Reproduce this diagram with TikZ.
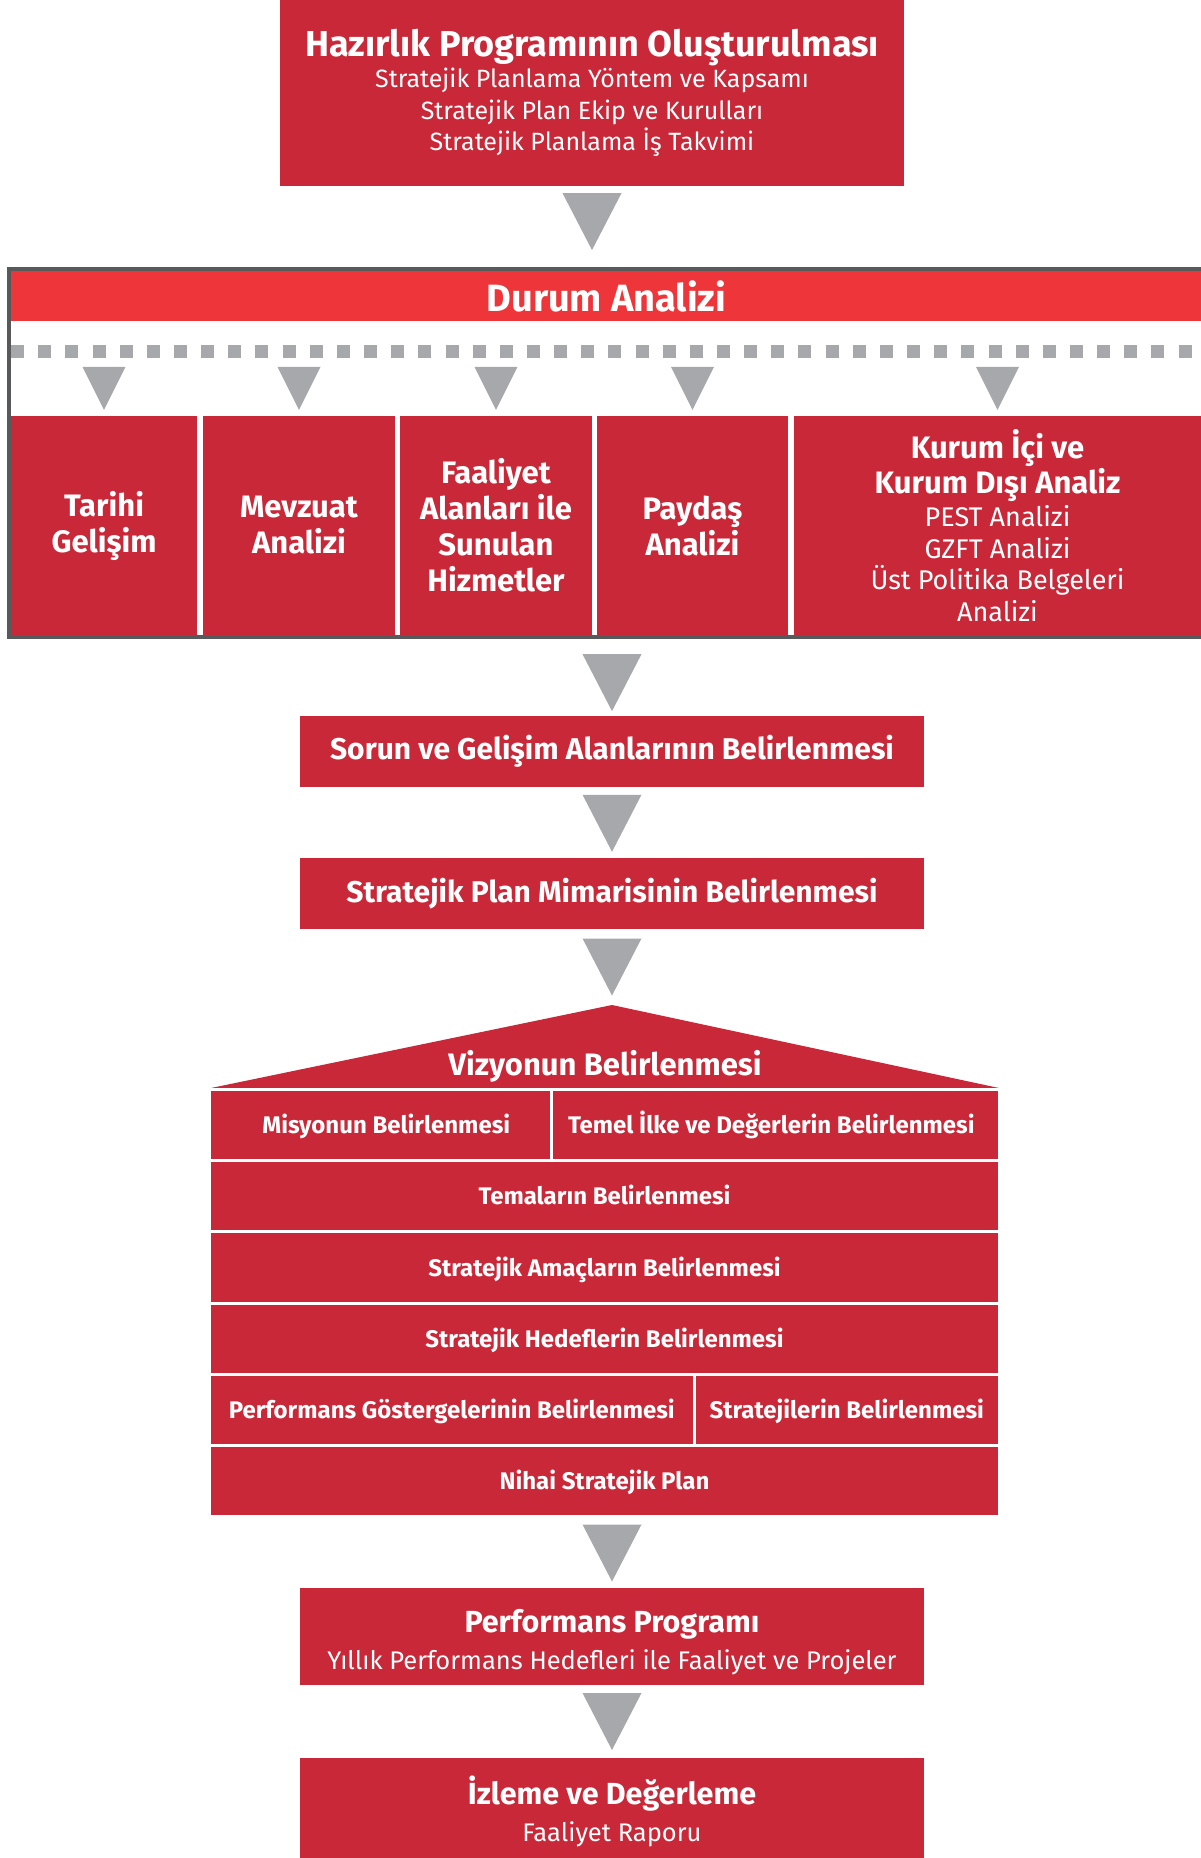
\documentclass[tikz,border=0pt]{standalone}
\usepackage{fontspec}
\setmainfont{Fira Sans}
\usetikzlibrary{calc}

\definecolor{kirmizi}{RGB}{200,40,56}
\definecolor{acikkirmizi}{RGB}{238,53,57}
\definecolor{gri}{RGB}{167,168,171}
\definecolor{koyugri}{RGB}{88,89,91}

\newcommand\ince{\mdseries\fontsize{27}{31.5}\selectfont}

\tikzset{
  kutu/.style={fill=kirmizi, text=white, align=center, inner sep=0pt},
  sutun/.style={kutu, minimum height=219pt, font=\fontsize{31}{36}\selectfont\bfseries},
  katman/.style={kutu, draw=white, line width=3pt, minimum height=71.2pt,
    text height=18pt, text depth=0.8pt, font=\fontsize{24}{28}\selectfont\bfseries},
  ana/.style={kutu, minimum width=624pt, minimum height=71pt,
    font=\fontsize{30}{34}\selectfont\bfseries},
  yazi/.style={text=white, align=center, inner sep=0pt, font=\fontsize{25.5}{33}\selectfont},
  ok/.style={fill=gri},
}

\begin{document}
\begin{tikzpicture}[x=1pt, y=-1pt]
    \fill[white] (0,0) rectangle (1201,1858);
    \useasboundingbox (0,0) rectangle (1201,1858);

    \node[kutu, minimum width=624pt, minimum height=186pt,
      font=\fontsize{25}{31.5}\selectfont] (hazir) at (592,93)
      {{\bfseries\fontsize{36}{36}\selectfont Hazırlık Programının Oluşturulması}\\[0pt]
       Stratejik Planlama Yöntem ve Kapsamı\\
       Stratejik Plan Ekip ve Kurulları\\
       Stratejik Planlama İş Takvimi};

    % durum analizi
    \node[draw=koyugri, line width=4pt, minimum width=1221.7pt, minimum height=368pt,
      inner sep=0pt] (durum) at (620.15,453) {};
    \node[kutu, fill=acikkirmizi, minimum width=1190pt, minimum height=50pt,
      font=\fontsize{38}{38}\selectfont\bfseries] (durumB) at (606.3,296) {Durum Analizi};
    \draw[gri, line width=13pt, dash pattern=on 13pt off 14.15pt]
      ($(durumB.south west)+(0,30)$) -- ($(durumB.south east)+(0,30)$);

    \node[sutun, minimum width=186pt] (tarihi) at (104,525.5) {Tarihi\\Gelişim};
    \node[sutun, minimum width=192pt] (mevzuat) at (299,525.5) {Mevzuat\\Analizi};
    \node[sutun, minimum width=192pt] (faaliyet) at (496,525.5)
      {Faaliyet\\Alanları ile\\Sunulan\\Hizmetler};
    \node[sutun, minimum width=191pt] (paydas) at (692.5,525.5) {Paydaş\\Analizi};
    \node[sutun, minimum width=407pt] (kurum) at (997.5,525.5)
      {Kurum İçi ve\\[-1pt]Kurum Dışı Analiz\\[-3pt]
       {\ince PEST Analizi}\\[-4.5pt]{\ince GZFT Analizi}\\[-4.5pt]
       {\ince Üst Politika Belgeleri}\\[-4.5pt]{\ince Analizi}};

    \foreach \n in {tarihi,mevzuat,faaliyet,paydas,kurum}
      \fill[ok] ($(\n.north)+(-21.5,-49)$) -- ++(43,0) -- ($(\n.north)+(0,-6)$) -- cycle;

    \node[ana] (sorun) at (612,751) {Sorun ve Gelişim Alanlarının Belirlenmesi};
    \node[ana] (mimari) at (612,893.5) {Stratejik Plan Mimarisinin Belirlenmesi};

    % ev
    \node[inner sep=0pt, minimum size=0pt] (cati) at (612,1005) {};
    \fill[kirmizi] (211,1088) -- (cati.center) -- (999,1088) -- cycle;
    \node[text=white, inner sep=0pt, font=\fontsize{31}{31}\selectfont\bfseries]
      (vizyon) at (605,1066) {Vizyonun Belirlenmesi};

    \node[katman, minimum width=341.5pt] (misyon) at (380.25,1125.1)
      {\hspace*{12pt}Misyonun Belirlenmesi};
    \node[katman, minimum width=448.5pt] (temel) at (775.25,1125.1)
      {Temel İlke ve Değerlerin Belirlenmesi\hspace*{8pt}};
    \node[katman, minimum width=790pt] (temalar) at (604.5,1196.3) {Temaların Belirlenmesi};
    \node[katman, minimum width=790pt] (amaclar) at (604.5,1267.5)
      {Stratejik Amaçların Belirlenmesi};
    \node[katman, minimum width=790pt] (hedefler) at (604.5,1338.7)
      {Stratejik Hedeflerin Belirlenmesi};
    \node[katman, minimum width=484.5pt] (gosterge) at (451.75,1409.9)
      {Performans Göstergelerinin Belirlenmesi};
    \node[katman, minimum width=305.5pt] (stratejiler) at (846.75,1409.9)
      {Stratejilerin Belirlenmesi};
    \node[katman, minimum width=790pt] (nihai) at (604.5,1481.1) {Nihai Stratejik Plan};

    \node[ana, minimum height=97pt] (perf) at (612,1636.5) {};
    \node[yazi] (perfY) at ($(perf.center)+(0,6)$)
      {{\bfseries\fontsize{30.5}{30.5}\selectfont Performans Programı}\\[4pt]
       Yıllık Performans Hedefleri ile Faaliyet ve Projeler};
    \node[ana, minimum height=100pt] (izleme) at (612,1808) {};
    \node[yazi] (izlemeY) at ($(izleme.center)+(0,3.5)$)
      {{\bfseries\fontsize{30.5}{30.5}\selectfont İzleme ve Değerleme}\\[4pt]
       Faaliyet Raporu};

    % oklar
    \foreach \a/\b/\c/\d in {hazir/durum/hazir/-5, durum/sorun/sorun/5.5, sorun/mimari/sorun/1,
      mimari/cati/sorun/0, nihai/perf/perf/0, perf/izleme/perf/0} {
      \coordinate (m) at ($(\a.south)!.5!(\b.north)+(0,\d)$);
      \fill[ok] (m -| \c.center) ++(-29.5,-28.5) -- ++(59,0) -- ++(-29.5,57) -- cycle;
    }
\end{tikzpicture}
\end{document}
